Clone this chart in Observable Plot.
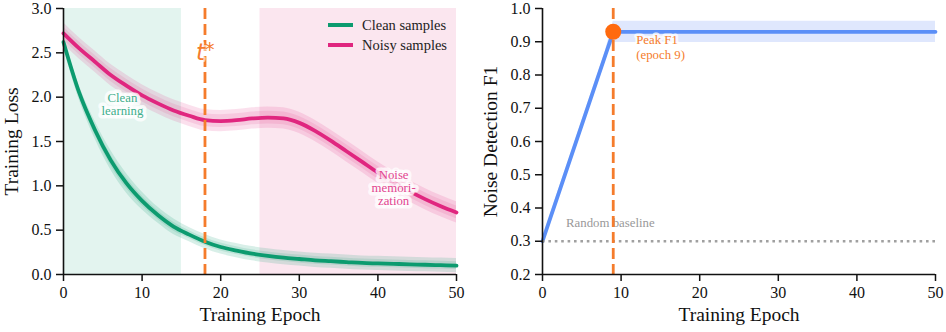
<!DOCTYPE html>
<html><head><meta charset="utf-8">
<script src="https://cdn.jsdelivr.net/npm/d3@7"></script>
<script src="https://cdn.jsdelivr.net/npm/@observablehq/plot@0.6"></script>
<style>
body{margin:0;background:#fff;}
#wrap{position:relative;width:946px;height:332px;display:flex;font-family:"Liberation Serif",serif;}
#wrap svg g[aria-label$="tick label"]{font-size:16px;}
#wrap svg g[aria-label$="tick label"] text{font-size:16px;}
.legend{position:absolute;left:328px;top:15px;font-family:"Liberation Serif",serif;font-size:14.5px;color:#222;}
.legend .row{display:flex;align-items:center;height:20px;}
.legend .sw{width:25px;height:4px;margin-right:9px;}
</style></head>
<body><div id="wrap"></div>
<script>
// ---- data ----
const epochs    = [0,2,4,6,8,10,12,14,16,18,20,22,24,26,28,30,32,34,36,38,40,42,44,46,48,50];
const cleanLoss = [2.62,2.05,1.63,1.29,1.03,0.83,0.67,0.54,0.45,0.37,0.31,0.27,0.235,0.21,0.19,0.175,0.16,0.15,0.14,0.13,0.125,0.12,0.115,0.11,0.105,0.10];
const cleanStd  = [0.06,0.08,0.10,0.11,0.11,0.10,0.09,0.09,0.08,0.08,0.08,0.08,0.08,0.08,0.08,0.08,0.08,0.08,0.08,0.08,0.08,0.08,0.08,0.08,0.08,0.08];
const noisyLoss = [2.72,2.55,2.40,2.25,2.13,2.02,1.93,1.85,1.79,1.74,1.73,1.74,1.76,1.77,1.76,1.71,1.62,1.51,1.39,1.27,1.15,1.04,0.94,0.85,0.77,0.70];
const noisyStd  = [0.12,0.12,0.12,0.12,0.12,0.12,0.12,0.12,0.12,0.12,0.12,0.12,0.12,0.12,0.12,0.12,0.12,0.12,0.12,0.12,0.12,0.12,0.12,0.12,0.12,0.12];
const seriesNames = ["Clean samples","Noisy samples"];
const seriesColors = ["#0c9b6f","#e0267f"];
const phaseLabels = ["Clean\nlearning","Noise\nmemori-\nzation"];
const phaseStart = [0,25];
const phaseEnd   = [15,50];
const phaseFill  = ["#e3f4ef","#fbe6ef"];
const phaseLabelX = [7.5,42];
const phaseLabelY = [1.92,0.98];
const phaseLabelColor = ["#3fae8c","#e2448f"];
const tStar = 18;

const f1Epochs = [0,1,2,3,4,5,6,7,8,9,10,15,20,25,30,35,40,45,50];
const f1Score  = [0.30,0.37,0.44,0.51,0.58,0.65,0.72,0.79,0.86,0.93,0.93,0.93,0.93,0.93,0.93,0.93,0.93,0.93,0.93];
const f1Std    = [0.012,0.012,0.012,0.012,0.012,0.012,0.012,0.012,0.012,0.032,0.032,0.032,0.032,0.032,0.032,0.032,0.032,0.032,0.032];
const peakEpoch = 9, peakF1 = 0.93;
const randomBaseline = 0.3;

const xTicks = [0,10,20,30,40,50];
const lossTicks = [0,0.5,1.0,1.5,2.0,2.5,3.0];
const f1Ticks = [0.2,0.3,0.4,0.5,0.6,0.7,0.8,0.9,1.0];

// ---- tables ----
const lossRows = epochs.map((e,i)=>({epoch:e, clean:cleanLoss[i], cs:cleanStd[i], noisy:noisyLoss[i], ns:noisyStd[i]}));
const phases = phaseStart.map((s,i)=>({start:s,end:phaseEnd[i],fill:phaseFill[i],label:phaseLabels[i],lx:phaseLabelX[i],ly:phaseLabelY[i],lc:phaseLabelColor[i]}));
const f1Rows = f1Epochs.map((e,i)=>({epoch:e, f1:f1Score[i], sd:f1Std[i]}));

const FONT = "Liberation Serif";
const TICK = 16;
const orange = "#f57c2c";
const common = (w, ml, mr) => ({
  width: w, height: 332, marginLeft: ml, marginRight: mr, marginTop: 8, marginBottom: 58,
  style: {fontFamily: FONT, fontSize: "16px", color: "#111", background: "white", overflow: "visible"}
});

const curve = "monotone-x";
const band = (key, sd, color, k, op) => Plot.areaY(lossRows, {x:"epoch", y1:d=>d[key]-d[sd]*k, y2:d=>d[key]+d[sd]*k, fill:color, fillOpacity:op, curve});

const left = Plot.plot({
  ...common(480, 63, 24),
  x: {domain:[0,50]},
  y: {domain:[0,3]},
  marks: [
    Plot.rect(phases, {x1:"start", x2:"end", fill:"fill"}),
    band("clean","cs",seriesColors[0],1,0.16),
    band("clean","cs",seriesColors[0],0.55,0.14),
    band("noisy","ns",seriesColors[1],1,0.14),
    band("noisy","ns",seriesColors[1],0.6,0.12),
    Plot.line(lossRows, {x:"epoch", y:"clean", stroke:seriesColors[0], strokeWidth:3.8, curve}),
    Plot.line(lossRows, {x:"epoch", y:"noisy", stroke:seriesColors[1], strokeWidth:3.8, curve}),
    Plot.ruleX([tStar], {stroke:orange, strokeWidth:2.8, strokeDasharray:"11,5"}),
    Plot.text(["t"], {x:()=>tStar, frameAnchor:"top", lineAnchor:"middle", dy:44, textAnchor:"end", dx:0, fill:orange, fontSize:23, fontStyle:"italic", fontFamily:"DejaVu Sans", stroke:"white", strokeOpacity:0.6, strokeWidth:4}),
    Plot.text(["*"], {x:()=>tStar, frameAnchor:"top", lineAnchor:"middle", dy:41, textAnchor:"start", dx:0, fill:orange, fontSize:19, fontFamily:"DejaVu Sans"}),
    Plot.text(phases, {x:"lx", y:"ly", text:"label", fill:"lc", fontSize:12.8, lineHeight:1.02, stroke:"white", strokeOpacity:0.75, strokeWidth:7, strokeLinejoin:"round"}),
    Plot.ruleX([0], {stroke:"#111", strokeWidth:1.6}),
    Plot.ruleY([0], {stroke:"#111", strokeWidth:1.6}),
    Plot.axisX({ticks:xTicks, tickSize:7, tickPadding:5, strokeWidth:1.5, fontSize:TICK, label:null}),
    Plot.axisY({ticks:lossTicks, tickFormat:d3.format(".1f"), tickSize:7, tickPadding:5, strokeWidth:1.5, fontSize:TICK, label:null}),
    Plot.text(["Training Epoch"], {frameAnchor:"bottom", dy:46, fontSize:19.5}),
    Plot.text(["Training Loss"], {frameAnchor:"left", textAnchor:"middle", dx:-52, rotate:-90, fontSize:19.5})
  ]
});

const blue = "#5b8ff7";
const right = Plot.plot({
  ...common(466, 62, 11),
  x: {domain:[0,50]},
  y: {domain:[0.2,1.0]},
  marks: [
    Plot.areaY(f1Rows, {x:"epoch", y1:d=>d.f1-d.sd, y2:d=>d.f1+d.sd, fill:"#dfe7fd"}),
    Plot.line(f1Rows, {x:"epoch", y:"f1", stroke:blue, strokeWidth:3.8}),
    Plot.ruleY([randomBaseline], {stroke:"#a0a0a0", strokeWidth:2.6, strokeDasharray:"2.6,3.8"}),
    Plot.text(["Random baseline"], {x:()=>3, y:()=>randomBaseline, dy:-18, textAnchor:"start", fill:"#999", fontSize:12.8, stroke:"white", strokeOpacity:0.8, strokeWidth:5}),
    Plot.ruleX([peakEpoch], {stroke:orange, strokeWidth:2.8, strokeDasharray:"11,5"}),
    Plot.dot([{x:peakEpoch,y:peakF1}], {x:"x", y:"y", r:8, fill:"#ff6a0e"}),
    Plot.text([{x:peakEpoch,y:peakF1}], {x:"x", y:"y", text:()=>"Peak F1\n(epoch 9)", dx:23, dy:15, textAnchor:"start", fill:orange, fontSize:12.8, lineHeight:1.12, stroke:"white", strokeOpacity:0.75, strokeWidth:5}),
    Plot.ruleX([0], {stroke:"#111", strokeWidth:1.6}),
    Plot.ruleY([0.2], {stroke:"#111", strokeWidth:1.6}),
    Plot.axisX({ticks:xTicks, tickSize:7, tickPadding:5, strokeWidth:1.5, fontSize:TICK, label:null}),
    Plot.axisY({ticks:f1Ticks, tickFormat:d3.format(".1f"), tickSize:7, tickPadding:5, strokeWidth:1.5, fontSize:TICK, label:null}),
    Plot.text(["Training Epoch"], {frameAnchor:"bottom", dy:46, fontSize:19.5}),
    Plot.text(["Noise Detection F1"], {frameAnchor:"left", textAnchor:"middle", dx:-52, rotate:-90, fontSize:19.5})
  ]
});

const wrap = document.getElementById("wrap");
wrap.append(left, right);

// legend
const lg = document.createElement("div");
lg.className = "legend";
seriesNames.forEach((n,i)=>{
  const r = document.createElement("div"); r.className="row";
  const s = document.createElement("div"); s.className="sw"; s.style.background = seriesColors[i];
  const t = document.createElement("span"); t.textContent = n;
  r.append(s,t); lg.append(r);
});
wrap.append(lg);
</script></body></html>
